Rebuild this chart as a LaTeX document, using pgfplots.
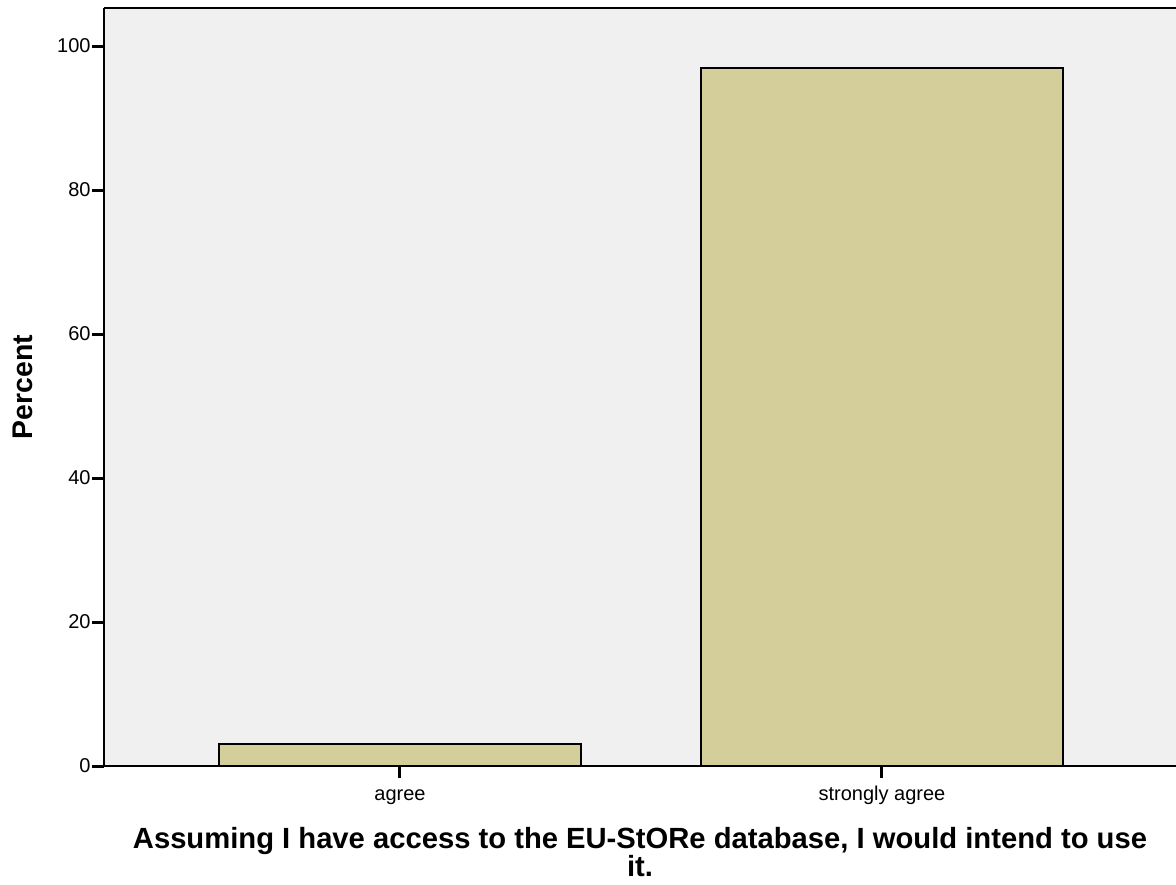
\documentclass[border=0pt]{standalone}
\usepackage{pgfplots}
\pgfplotsset{compat=1.18}
\usepackage{fontspec}
\setmainfont{Liberation Sans}
\definecolor{plotbg}{HTML}{F0F0F0}
\definecolor{barfill}{HTML}{D3CE9A}
\begin{document}
\begin{tikzpicture}
\path[use as bounding box] (-52pt,-59pt) rectangle (536pt,383pt);
\begin{axis}[
  scale only axis,
  width=536pt, height=379pt,
  xmin=-0.6141, xmax=1.61,
  ymin=0, ymax=105.28,
  axis background/.style={fill=plotbg},
  axis x line=box, axis y line=left,
  axis line style={-, line width=1.2pt, black},
  xtick pos=bottom, ytick pos=left,
  tick align=outside,
  major tick length=6pt,
  every tick/.style={black, line width=1.5pt},
  xtick={0,1},
  xticklabels={agree, strongly agree},
  ytick={0,20,40,60,80,100},
  tick label style={font=\fontsize{10}{12}\selectfont, /pgf/number format/assume math mode=true},
  yticklabel style={inner sep=0.5pt},
  xticklabel style={inner sep=0pt, text height=11pt, text depth=2pt},
  clip=false,
]
\addplot[ybar, bar width=181pt, fill=barfill, draw=black, line width=0.9pt] coordinates {(0,3.03) (1,96.97)};
\end{axis}
\node[anchor=base, rotate=90, inner sep=0pt, font=\fontsize{14.2}{14}\selectfont\bfseries] at (-35.5pt,189.5pt) {Percent};
\node[anchor=north, inner sep=0pt, align=center, font=\fontsize{14.6}{14}\selectfont\bfseries] at (268pt,-30.5pt)
  {Assuming I have access to the EU-StORe database, I would intend to use\\it.};
\end{tikzpicture}
\end{document}
